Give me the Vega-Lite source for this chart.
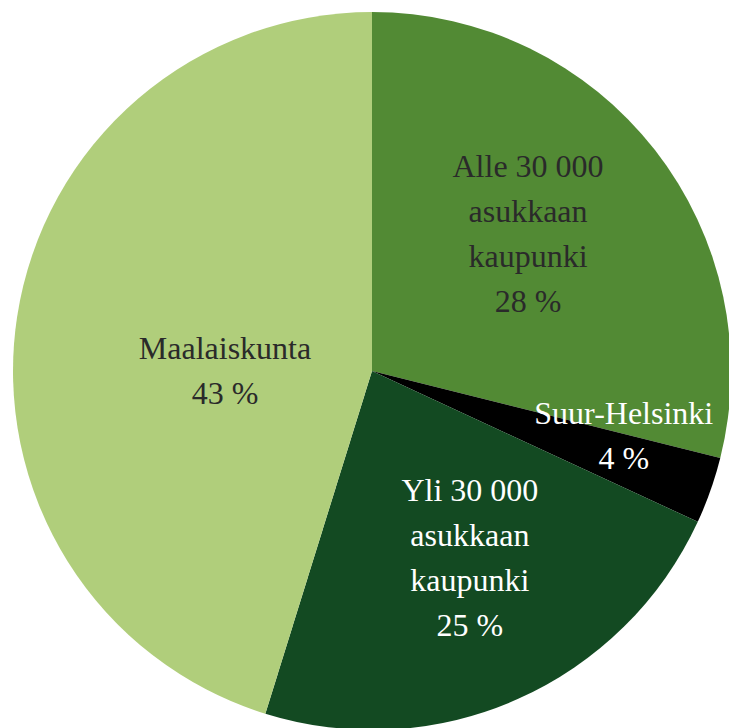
{
  "$schema": "https://vega.github.io/schema/vega-lite/v6.json",
  "autosize": {"type": "none"},
  "width": 718,
  "height": 718,
  "padding": {"left": 13, "top": 12, "right": 0, "bottom": 0},
  "background": "white",
  "config": {"view": {"stroke": null}},
  "data": {
    "values": [
      {"category": "Alle 30 000 asukkaan kaupunki", "label": "Alle 30 000\nasukkaan\nkaupunki\n28 %", "value": 28.9, "order": 1},
      {"category": "Suur-Helsinki", "label": "Suur-Helsinki\n4 %", "value": 3.0, "order": 2},
      {"category": "Yli 30 000 asukkaan kaupunki", "label": "Yli 30 000\nasukkaan\nkaupunki\n25 %", "value": 22.9, "order": 3},
      {"category": "Maalaiskunta", "label": "Maalaiskunta\n43 %", "value": 45.2, "order": 4}
    ]
  },
  "transform": [
    {"stack": "value", "groupby": [], "sort": [{"field": "order", "order": "ascending"}], "as": ["v0", "v1"]}
  ],
  "encoding": {
    "theta": {"field": "v0", "type": "quantitative", "scale": {"domain": [0, 100]}},
    "theta2": {"field": "v1"}
  },
  "layer": [
    {
      "mark": {"type": "arc", "outerRadius": 359, "stroke": null},
      "encoding": {
        "color": {
          "field": "category",
          "type": "nominal",
          "scale": {
            "domain": ["Alle 30 000 asukkaan kaupunki", "Suur-Helsinki", "Yli 30 000 asukkaan kaupunki", "Maalaiskunta"],
            "range": ["#528a34", "#000000", "#134a22", "#b0ce7b"]
          },
          "legend": null
        }
      }
    },
    {
      "transform": [{"filter": "datum.order == 1"}],
      "mark": {"type": "text", "radius": 207, "thetaOffset": 0.8538, "dy": -68, "align": "center", "baseline": "middle", "lineBreak": "\n", "lineHeight": 45, "font": "Liberation Serif", "fontSize": 32, "color": "#2a2a2a"},
      "encoding": {"text": {"field": "label"}}
    },
    {
      "transform": [{"filter": "datum.order == 2"}],
      "mark": {"type": "text", "radius": 260, "thetaOffset": 0.0073, "dy": -22, "align": "center", "baseline": "middle", "lineBreak": "\n", "lineHeight": 45, "font": "Liberation Serif", "fontSize": 32, "color": "#ffffff"},
      "encoding": {"text": {"field": "label"}}
    },
    {
      "transform": [{"filter": "datum.order == 3"}],
      "mark": {"type": "text", "radius": 210, "thetaOffset": 0.6524, "dy": -66, "align": "center", "baseline": "middle", "lineBreak": "\n", "lineHeight": 45, "font": "Liberation Serif", "fontSize": 32, "color": "#ffffff"},
      "encoding": {"text": {"field": "label"}}
    },
    {
      "transform": [{"filter": "datum.order == 4"}],
      "mark": {"type": "text", "radius": 147, "thetaOffset": 1.2692, "dy": -22, "align": "center", "baseline": "middle", "lineBreak": "\n", "lineHeight": 45, "font": "Liberation Serif", "fontSize": 32, "color": "#2a2a2a"},
      "encoding": {"text": {"field": "label"}}
    }
  ]
}
